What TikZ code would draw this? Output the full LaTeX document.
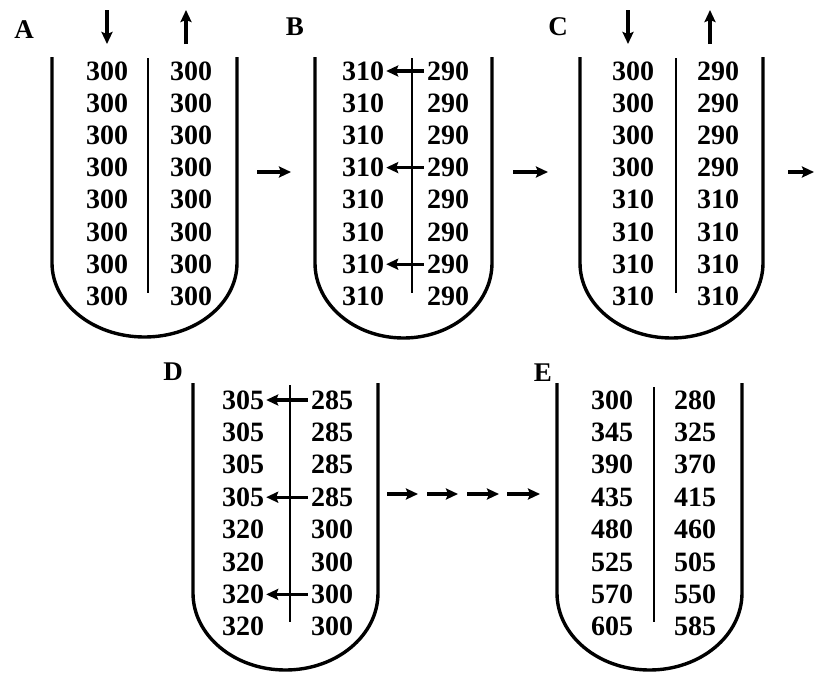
\documentclass[tikz,border=0pt]{standalone}
\usepackage{fontspec}
\setmainfont{Liberation Serif}
\usetikzlibrary{arrows.meta}
\newcommand\tubeshape[5]{% #1 left x, #2 right x, #3 top y, #4 bend y, #5 bottom y
  \pgfmathsetmacro\tcx{(#1+#2)/2}%
  \pgfmathsetmacro\tkx{0.5523*(#2-#1)/2}%
  \pgfmathsetmacro\tky{#4+0.5523*(#5-#4)}%
  \pgfmathsetmacro\tlx{\tcx-\tkx}%
  \pgfmathsetmacro\trx{\tcx+\tkx}%
  \draw[wall] (#1,#3) -- (#1,#4) .. controls (#1,\tky) and (\tlx,#5) .. (\tcx,#5)
    .. controls (\trx,#5) and (#2,\tky) .. (#2,#4) -- (#2,#3);%
}
\begin{document}
\begin{tikzpicture}[x=1pt,y=-1pt,
  wall/.style={line width=3.4pt},
  midline/.style={line width=2.8pt},
  flow/.style={line width=3.4pt,-{Stealth[length=12pt,width=11pt,inset=2pt]}},
  num/.style={font=\fontsize{28}{28}\selectfont\bfseries,inner sep=0pt,anchor=center},
  panel/.style={font=\fontsize{27}{27}\selectfont\bfseries,inner sep=0pt,anchor=center}]
\useasboundingbox (0,0) rectangle (815,673);

% ---------- Panel A ----------
\node[panel] (labA) at (24,30) {A};
\tubeshape{52}{237}{57}{263}{337}
\coordinate (A-mt) at (148,58); \coordinate (A-mb) at (148,293);
\draw[midline] (A-mt) -- (A-mb);
\foreach \v [count=\i] in {300,300,300,300,300,300,300,300}
  \node[num] (A-l\i) at (107,{71+32.2*(\i-1)}) {\v};
\foreach \v [count=\i] in {300,300,300,300,300,300,300,300}
  \node[num] (A-r\i) at (191,{71+32.2*(\i-1)}) {\v};
\coordinate (A-d0) at (107,10); \coordinate (A-d1) at (107,44);
\draw[flow] (A-d0) -- (A-d1);
\coordinate (A-u0) at (186,44); \coordinate (A-u1) at (186,10);
\draw[flow] (A-u0) -- (A-u1);

% ---------- Panel B ----------
\node[panel] (labB) at (295,27) {B};
\tubeshape{315}{492}{57}{263}{338}
\coordinate (B-mt) at (412,58); \coordinate (B-mb) at (412,293);
\draw[midline] (B-mt) -- (B-mb);
\foreach \v [count=\i] in {310,310,310,310,310,310,310,310}
  \node[num] (B-l\i) at (363,{71+32.2*(\i-1)}) {\v};
\foreach \v [count=\i] in {290,290,290,290,290,290,290,290}
  \node[num] (B-r\i) at (448,{71+32.2*(\i-1)}) {\v};
\foreach \i in {1,4,7}
  \draw[flow,shorten <=3pt,shorten >=2pt] (B-r\i.west) -- (B-l\i.east);

% ---------- Panel C ----------
\node[panel] (labC) at (558,27) {C};
\tubeshape{580}{763}{57}{263}{338}
\coordinate (C-mt) at (676,58); \coordinate (C-mb) at (676,293);
\draw[midline] (C-mt) -- (C-mb);
\foreach \v [count=\i] in {300,300,300,300,310,310,310,310}
  \node[num] (C-l\i) at (633,{71+32.2*(\i-1)}) {\v};
\foreach \v [count=\i] in {290,290,290,290,310,310,310,310}
  \node[num] (C-r\i) at (718,{71+32.2*(\i-1)}) {\v};
\coordinate (C-d0) at (628,10); \coordinate (C-d1) at (628,44);
\draw[flow] (C-d0) -- (C-d1);
\coordinate (C-u0) at (710,44); \coordinate (C-u1) at (710,10);
\draw[flow] (C-u0) -- (C-u1);

% ---------- arrows between top panels ----------
\coordinate (s1a) at (257,172); \coordinate (s1b) at (291,172);
\draw[flow] (s1a) -- (s1b);
\coordinate (s2a) at (513,172); \coordinate (s2b) at (548,172);
\draw[flow] (s2a) -- (s2b);
\coordinate (s3a) at (788,172); \coordinate (s3b) at (814,172);
\draw[flow] (s3a) -- (s3b);

% ---------- Panel D ----------
\node[panel] (labD) at (173,372) {D};
\tubeshape{193}{378}{383}{593}{670}
\coordinate (D-mt) at (290,385); \coordinate (D-mb) at (290,622);
\draw[midline] (D-mt) -- (D-mb);
\foreach \v [count=\i] in {305,305,305,305,320,320,320,320}
  \node[num] (D-l\i) at (243,{400+32.4*(\i-1)}) {\v};
\foreach \v [count=\i] in {285,285,285,285,300,300,300,300}
  \node[num] (D-r\i) at (332,{400+32.4*(\i-1)}) {\v};
\foreach \i in {1,4,7}
  \draw[flow,shorten <=3pt,shorten >=2pt] (D-r\i.west) -- (D-l\i.east);

% ---------- arrows D -> E ----------
\foreach \a/\b [count=\k] in {387/418,427/458,467/499,507/540}{
  \coordinate (t\k a) at (\a,494); \coordinate (t\k b) at (\b,494);
  \draw[flow] (t\k a) -- (t\k b);
}

% ---------- Panel E ----------
\node[panel] (labE) at (543,373) {E};
\tubeshape{557}{742}{383}{593}{670}
\coordinate (E-mt) at (654,387); \coordinate (E-mb) at (654,622);
\draw[midline] (E-mt) -- (E-mb);
\foreach \v [count=\i] in {300,345,390,435,480,525,570,605}
  \node[num] (E-l\i) at (612,{400+32.4*(\i-1)}) {\v};
\foreach \v [count=\i] in {280,325,370,415,460,505,550,585}
  \node[num] (E-r\i) at (695,{400+32.4*(\i-1)}) {\v};
\end{tikzpicture}
\end{document}
